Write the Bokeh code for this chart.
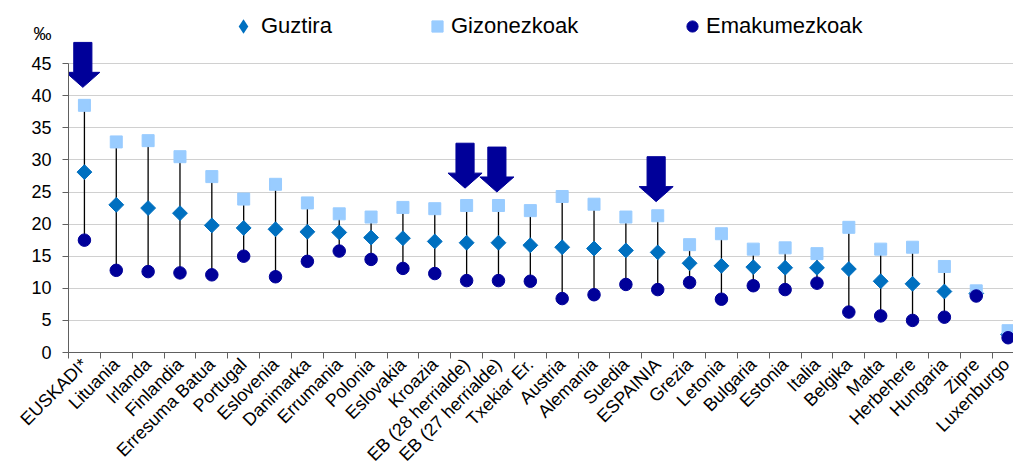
import math
from bokeh.plotting import figure
from bokeh.models import (Range1d, FixedTicker, Legend, LegendItem, LinearAxis,
                          ColumnDataSource)
from bokeh.embed import file_html
from bokeh.resources import INLINE

countries = ["EUSKADI*", "Lituania", "Irlanda", "Finlandia", "Erresuma Batua",
             "Portugal", "Eslovenia", "Danimarka", "Errumania", "Polonia",
             "Eslovakia", "Kroazia", "EB (28 herrialde)", "EB (27 herrialde)",
             "Txekiar Er.", "Austria", "Alemania", "Suedia", "ESPAINIA",
             "Grezia", "Letonia", "Bulgaria", "Estonia", "Italia", "Belgika",
             "Malta", "Herbehere", "Hungaria", "Zipre", "Luxenburgo"]
guztira = [28.1, 23.0, 22.5, 21.7, 19.8, 19.4, 19.2, 18.8, 18.7, 17.9,
           17.8, 17.3, 17.1, 17.1, 16.7, 16.4, 16.2, 15.9, 15.6, 13.9,
           13.5, 13.3, 13.2, 13.2, 13.0, 11.1, 10.7, 9.5, 9.2, 2.8]
gizonezkoak = [38.5, 32.8, 33.0, 30.5, 27.4, 23.9, 26.2, 23.3, 21.6, 21.1,
               22.6, 22.4, 22.9, 22.9, 22.1, 24.3, 23.1, 21.1, 21.3, 16.8,
               18.5, 16.1, 16.3, 15.4, 19.5, 16.1, 16.4, 13.4, 9.6, 3.4]
emakumezkoak = [17.5, 12.8, 12.6, 12.4, 12.1, 15.0, 11.8, 14.2, 15.8, 14.5,
                13.1, 12.3, 11.2, 11.2, 11.1, 8.4, 9.0, 10.6, 9.8, 10.9,
                8.3, 10.4, 9.8, 10.8, 6.3, 5.7, 5.0, 5.5, 8.8, 2.3]
y_ticks = [0, 5, 10, 15, 20, 25, 30, 35, 40, 45]
unit_label = "‰"
unit_label_y = 49.6

# highlighted categories (arrows) and where their tips point
arrow_cats = ["EUSKADI*", "EB (28 herrialde)", "EB (27 herrialde)", "ESPAINIA"]
arrow_tips = [41.3, 25.6, 25.0, 23.5]

FONT = "Liberation Sans"
C_TOT = "#0070C0"
C_MEN = "#99CCFF"
C_WOM = "#000099"
AX = "#606060"

n = len(countries)
xc = [i + 0.5 for i in range(n)]
lo = [min(a, b) for a, b in zip(gizonezkoak, emakumezkoak)]
hi = [max(a, b) for a, b in zip(gizonezkoak, emakumezkoak)]
src = ColumnDataSource(dict(x=xc, tot=guztira, men=gizonezkoak, wom=emakumezkoak,
                            lo=lo, hi=hi))

p = figure(width=1013, height=474, output_backend="svg", toolbar_location=None,
           x_range=Range1d(0, 29.67), y_range=Range1d(0, 54.83),
           min_border_left=68, min_border_right=0, min_border_top=0,
           min_border_bottom=122)
p.outline_line_color = None
p.background_fill_color = "white"
p.border_fill_color = "white"

p.segment(x0="x", y0="lo", x1="x", y1="hi", source=src, line_color="black",
          line_width=1.3)
# legend-only diamond (zero size in the plot; legend glyphs are sized by the legend)
r_tot_leg = p.scatter(x="x", y="tot", source=src, marker="diamond", size=0,
                      fill_color=C_TOT, line_color=None)
r_tot = p.scatter(x="x", y="tot", source=src, marker="square", angle=math.pi / 4,
                  size=10.5, fill_color=C_TOT, line_color=C_TOT)
r_men = p.scatter(x="x", y="men", source=src, marker="square", size=12,
                  fill_color=C_MEN, line_color=C_MEN)
r_wom = p.scatter(x="x", y="wom", source=src, marker="circle", size=12.5,
                  fill_color=C_WOM, line_color=C_WOM)

# arrows
L_total, L_head = 7.0, 2.34
w_shaft, w_head = 0.285, 0.535
axs, ays = [], []
for c, tip in zip(arrow_cats, arrow_tips):
    cx = countries.index(c) + 0.45
    top = tip + L_total
    hb = tip + L_head
    axs.append([cx - w_shaft, cx + w_shaft, cx + w_shaft, cx + w_head, cx,
                cx - w_head, cx - w_shaft])
    ays.append([top, top, hb, hb, tip, hb, hb])
p.patches(xs=axs, ys=ays, fill_color=C_WOM, line_color=C_WOM)

# grid
p.xgrid.visible = False
p.ygrid.ticker = FixedTicker(ticks=y_ticks[1:])
p.ygrid.grid_line_color = "#a0a0a0"
p.ygrid.grid_line_dash = "1 1"
p.ygrid.grid_line_width = 1

# inner y axis: line + tick marks only
p.yaxis.ticker = FixedTicker(ticks=[], minor_ticks=y_ticks)
p.yaxis.bounds = (0, 45)
p.yaxis.major_tick_out = 0
p.yaxis.major_tick_in = 0
p.yaxis.minor_tick_out = 6
p.yaxis.minor_tick_in = 0
p.yaxis.major_label_standoff = 0
p.yaxis.axis_line_color = AX
p.yaxis.minor_tick_line_color = AX

# outer y axis: tick labels (and the unit sign above them)
ylab = LinearAxis(ticker=FixedTicker(ticks=y_ticks + [unit_label_y]),
                  bounds=(0, unit_label_y))
ylab.major_label_overrides = {unit_label_y: unit_label}
ylab.axis_line_color = None
ylab.major_tick_line_color = None
ylab.minor_tick_line_color = None
ylab.major_tick_out = 0
ylab.major_tick_in = 0
ylab.minor_tick_out = 0
ylab.minor_tick_in = 0
ylab.major_label_standoff = 11
ylab.major_label_text_font = FONT
ylab.major_label_text_font_size = "18px"
ylab.major_label_text_color = "black"
p.add_layout(ylab, "left")

# x axis: tick marks at category borders, labels at centres
p.xaxis.ticker = FixedTicker(ticks=xc, minor_ticks=list(range(n)))
p.xaxis.major_label_overrides = {x: c for x, c in zip(xc, countries)}
p.xaxis.major_tick_out = 0
p.xaxis.major_tick_in = 0
p.xaxis.minor_tick_out = 6
p.xaxis.minor_tick_in = 0
p.xaxis.minor_tick_line_color = AX
p.xaxis.axis_line_color = AX
p.xaxis.major_label_orientation = math.pi / 4
p.xaxis.major_label_standoff = 3
p.xaxis.major_label_text_font = FONT
p.xaxis.major_label_text_font_size = "18px"
p.xaxis.major_label_text_color = "black"

# legends (one item each, placed like the original)
legend_items = [("Guztira", r_tot_leg, 157, 36, 308),
                ("Gizonezkoak", r_men, 355, 28, 310),
                ("Emakumezkoak", r_wom, 610, 28, 310)]
for label, rend, lx, gw, ly in legend_items:
    lg = Legend(items=[LegendItem(label=label, renderers=[rend])],
                location=(lx, ly), orientation="horizontal",
                padding=0, margin=0, spacing=0, label_standoff=0,
                glyph_width=gw, glyph_height=max(gw, 32),
                label_height=28,
                label_text_font=FONT, label_text_font_size="22px",
                label_text_color="black", border_line_color=None,
                background_fill_alpha=0)
    p.add_layout(lg)

open("out.html", "w").write(file_html(p, INLINE))
